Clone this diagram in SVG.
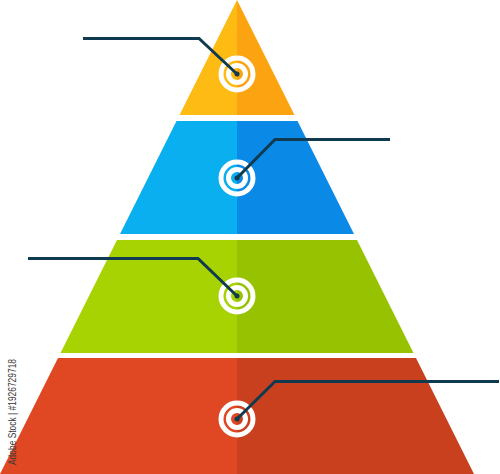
<svg xmlns="http://www.w3.org/2000/svg" width="500" height="474" viewBox="0 0 500 474">
  <style>
    .ring { fill: none; stroke: #ffffff; }
    .outer { stroke-width: 5; }
    .inner { stroke-width: 5; }
    .conn { fill: none; stroke: #0f3a50; stroke-width: 3; stroke-linejoin: miter; stroke-linecap: butt; }
    .dot { fill: #0f3a50; }
    .side { font-family: "Liberation Sans", Arial, sans-serif; font-size: 10.5px; fill: #3a3a3a; }
  </style>
  <rect x="0" y="0" width="500" height="474" fill="#ffffff"/>

  <g id="layer1-orange">
    <polygon points="237,0 237,115 179.5,115" fill="#febb13"/>
    <polygon points="237,0 294.5,115 237,115" fill="#fca312"/>
    <circle class="ring outer" cx="237" cy="74" r="16"/>
    <circle class="ring inner" cx="237" cy="74" r="8.5"/>
  </g>

  <g id="layer2-blue">
    <polygon points="176.5,121 237,121 237,234 120,234" fill="#0aaff0"/>
    <polygon points="237,121 297.5,121 354,234 237,234" fill="#0a89e7"/>
    <circle class="ring outer" cx="237" cy="178" r="16"/>
    <circle class="ring inner" cx="237" cy="178" r="8.5"/>
  </g>

  <g id="layer3-green">
    <polygon points="117,240 237,240 237,353 60.5,353" fill="#a6d301"/>
    <polygon points="237,240 357,240 413.5,353 237,353" fill="#97c201"/>
    <circle class="ring outer" cx="237" cy="296" r="16"/>
    <circle class="ring inner" cx="237" cy="296" r="8.5"/>
  </g>

  <g id="layer4-red">
    <polygon points="58,358 237,358 237,474 0,474" fill="#e04723"/>
    <polygon points="237,358 416,358 474,474 237,474" fill="#c9401f"/>
    <circle class="ring outer" cx="237" cy="419" r="16"/>
    <circle class="ring inner" cx="237" cy="419" r="8.5"/>
  </g>

  <g id="connectors">
    <polyline class="conn" points="83,38.5 199,38.5 237,74"/>
    <polyline class="conn" points="237,178 275,139.5 390,139.5"/>
    <polyline class="conn" points="28,258.5 198,258.5 237,296"/>
    <polyline class="conn" points="237,419 275,381.5 499,381.5"/>
    <circle class="dot" cx="237" cy="74" r="2.5"/>
    <circle class="dot" cx="237" cy="178" r="2.5"/>
    <circle class="dot" cx="237" cy="296" r="2.5"/>
    <circle class="dot" cx="237" cy="419" r="2.5"/>
  </g>

  <text class="side" transform="translate(15.5,465) rotate(-90)" textLength="106" lengthAdjust="spacingAndGlyphs">Adobe Stock | #1926729718</text>
</svg>
